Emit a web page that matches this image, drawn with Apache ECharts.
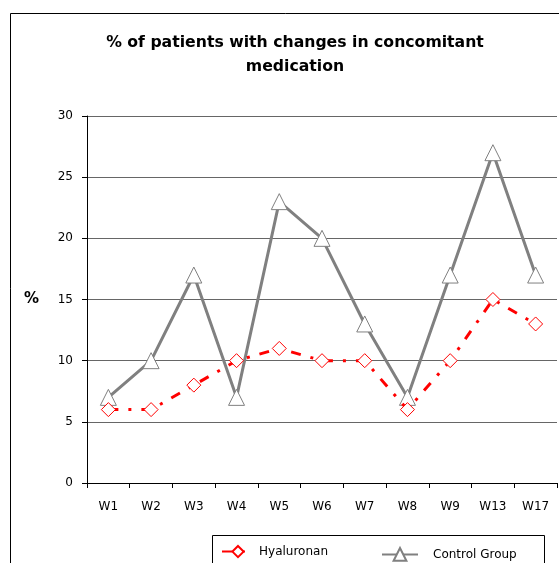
<!DOCTYPE html>
<html>
<head>
<meta charset="utf-8">
<script src="https://cdn.jsdelivr.net/npm/echarts@6/dist/echarts.min.js"></script>
<style>
	html,body{margin:0;padding:0;background:#fff;}
	#chart{width:559px;height:563px;}
</style>
</head>
<body>
<div id="chart"></div>
<script>
	var weeks = ["W1","W2","W3","W4","W5","W6","W7","W8","W9","W13","W17"];
	var hyaluronan = [6,6,8,10,11,10,10,6,10,15,13];
	var controlGroup = [7,10,17,7,23,20,13,7,17,27,17];
	var yTicks = [0,30,5];//min,max,interval

	var font = "DejaVu Sans";
	var myChart = echarts.init(document.getElementById("chart"));

	var option = {
		backgroundColor: "#fff",
		animation: false,
		title: {
			text: "% of patients with changes in concomitant\nmedication",
			left: 290,
			textAlign: "center",
			top: 26,
			textStyle: {fontFamily: font, fontSize: 15.7, fontWeight: "bold", color: "#000", lineHeight: 24}
		},
		grid: {left: 87, top: 116, right: 2, bottom: 80},
		legend: [{
			left: 216, top: 540,
			itemWidth: 32, itemHeight: 14, itemGap: 10,
			data: ["Hyaluronan"],
			textStyle: {fontFamily: font, fontSize: 12, color: "#000"}
		},{
			left: 376, top: 542,
			itemWidth: 36, itemHeight: 16, itemGap: 18,
			data: ["Control Group"],
			textStyle: {fontFamily: font, fontSize: 12, color: "#000", padding: [0,0,0,10]}
		}],
		graphic: [
			{type: "rect", shape: {x: 10.5, y: 13.5, width: 700, height: 700}, style: {fill: null, stroke: "#000", lineWidth: 1}, silent: true},
			{type: "rect", shape: {x: 212.5, y: 535.5, width: 332, height: 60}, style: {fill: null, stroke: "#000", lineWidth: 1}, silent: true}
		],
		xAxis: {
			type: "category",
			data: weeks,
			boundaryGap: true,
			axisLine: {lineStyle: {color: "#000", width: 1}},
			axisTick: {show: true, length: 5, inside: false, lineStyle: {color: "#000"}},
			axisLabel: {fontFamily: font, fontSize: 12, color: "#000", margin: 18}
		},
		yAxis: {
			type: "value",
			min: yTicks[0], max: yTicks[1], interval: yTicks[2],
			name: "%",
			nameLocation: "middle",
			nameRotate: 0,
			nameGap: 48,
			nameTextStyle: {fontFamily: font, fontSize: 15, fontWeight: "bold", color: "#000"},
			axisLine: {show: true, lineStyle: {color: "#000", width: 1}},
			axisTick: {show: true, length: 5, lineStyle: {color: "#000"}},
			axisLabel: {fontFamily: font, fontSize: 12, color: "#000", margin: 14},
			splitLine: {show: true, lineStyle: {color: "#666", width: 1}}
		},
		series: [{
			name: "Hyaluronan",
			type: "line",
			data: hyaluronan,
			symbol: "diamond",
			symbolSize: 14,
			itemStyle: {color: "#fff", borderColor: "#ff0000", borderWidth: 1},
			lineStyle: {color: "#ff0000", width: 3, type: [10,10,3,10]},
			z: 3
		},{
			name: "Control Group",
			type: "line",
			data: controlGroup,
			symbol: "triangle",
			symbolSize: 16,
			itemStyle: {color: "#fff", borderColor: "#808080", borderWidth: 1},
			lineStyle: {color: "#808080", width: 3},
			z: 2
		}]
	};

	myChart.setOption(option);
</script>
</body>
</html>
